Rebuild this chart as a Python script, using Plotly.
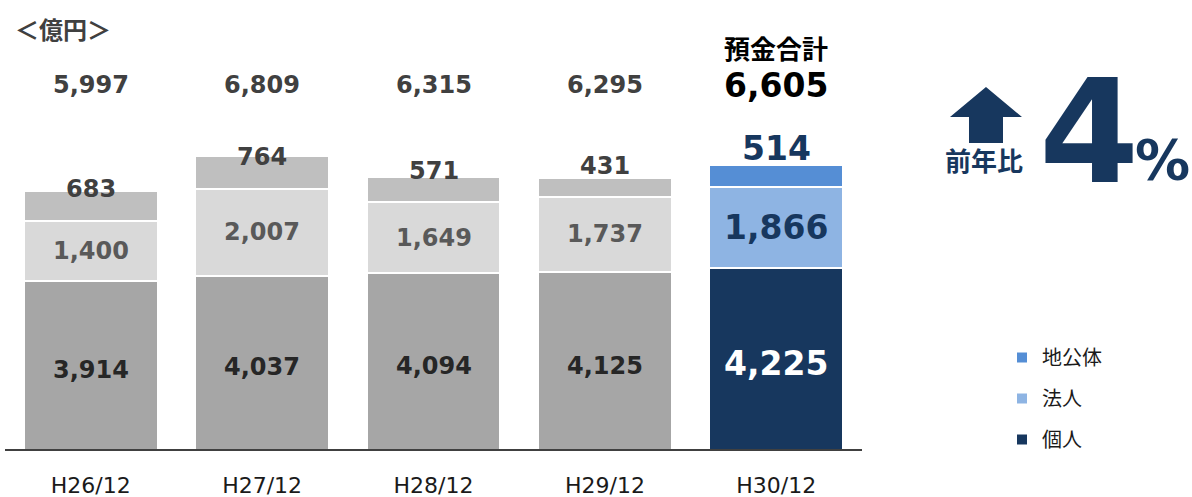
import plotly.graph_objects as go

# ---------------- data ----------------
categories = ["H26/12", "H27/12", "H28/12", "H29/12", "H30/12"]
kojin = [3914, 4037, 4094, 4125, 4225]      # 個人
hojin = [1400, 2007, 1649, 1737, 1866]      # 法人
chikotai = [683, 764, 571, 431, 514]        # 地公体
totals = [5997, 6809, 6315, 6295, 6605]     # 預金合計
yoy_pct = 4                                 # 前年比
series_names = ["個人", "法人", "地公体"]

# ---------------- layout geometry ----------------
W, H = 1192, 497
L, R, T, B = 5, 330, 0, 46
PW, PH = W - L - R, H - T - B
Y_MAX = PH / 0.04336


def px(x):
    return (x - L) / PW


def py(y):
    return (H - B - y) / PH


NUM_FONT = "DejaVu Sans"
JP_FONT = "Noto Sans CJK JP"
NAVY = "#17375e"

gray_cols = ["#a6a6a6", "#d9d9d9", "#bfbfbf"]
blue_cols = [NAVY, "#8eb4e3", "#558ed5"]
seg_values = [kojin, hojin, chikotai]
legend_rank = [3, 2, 1]

fig = go.Figure()
n_gray = len(categories) - 1
for k in range(3):
    fig.add_trace(go.Bar(
        x=categories[:n_gray], y=seg_values[k][:n_gray], name=series_names[k],
        marker=dict(color=gray_cols[k], line=dict(color="white", width=2)),
        width=0.78, showlegend=False, hoverinfo="skip"))
for k in range(3):
    fig.add_trace(go.Bar(
        x=categories[n_gray:], y=seg_values[k][n_gray:], name=series_names[k],
        marker=dict(color=blue_cols[k], line=dict(color="white", width=2)),
        width=0.78, showlegend=True, legendrank=legend_rank[k], hoverinfo="skip"))

ann = []


def paper_text(x, y, text, family, size, color, xanchor="center"):
    ann.append(dict(x=px(x), y=py(y), xref="paper", yref="paper", text=text,
                    xanchor=xanchor, yanchor="middle", showarrow=False,
                    font=dict(family=family, size=size, color=color, weight="bold")))


# unit label
paper_text(13, 28, "＜億円＞", JP_FONT, 24, "#404040", xanchor="left")

top_shift = [2, -1, 6, 12, 16]
for i, c in enumerate(categories):
    last = i == len(categories) - 1
    fs = 33 if last else 24
    # totals
    ann.append(dict(x=c, y=py(85), xref="x", yref="paper", text=f"{totals[i]:,}",
                    xanchor="center", yanchor="middle", showarrow=False,
                    font=dict(family=NUM_FONT, size=fs, weight="bold",
                              color="#000000" if last else "#404040")))
    # bottom segment
    ann.append(dict(x=c, y=kojin[i] / 2, xref="x", yref="y", text=f"{kojin[i]:,}",
                    yshift=-4, xanchor="center", yanchor="middle", showarrow=False,
                    font=dict(family=NUM_FONT, size=fs, weight="bold",
                              color="#ffffff" if last else "#262626")))
    # middle segment
    ann.append(dict(x=c, y=kojin[i] + hojin[i] / 2, xref="x", yref="y",
                    text=f"{hojin[i]:,}", xanchor="center", yanchor="middle",
                    showarrow=False,
                    font=dict(family=NUM_FONT, size=fs, weight="bold",
                              color=NAVY if last else "#595959")))
    # top segment
    ann.append(dict(x=c, y=kojin[i] + hojin[i] + chikotai[i], xref="x", yref="y",
                    yshift=top_shift[i], text=f"{chikotai[i]:,}",
                    xanchor="center", yanchor="middle", showarrow=False,
                    font=dict(family=NUM_FONT, size=fs, weight="bold",
                              color=NAVY if last else "#404040")))

ann.append(dict(x=categories[-1], y=py(47), xref="x", yref="paper", text="預金合計",
                xanchor="center", yanchor="middle", showarrow=False,
                font=dict(family=JP_FONT, size=26, weight="bold", color="#000000")))

# year-over-year block
paper_text(984, 159, "前年比", JP_FONT, 26, NAVY)
paper_text(1089, 132, f"{yoy_pct}", NUM_FONT, 144, NAVY)
paper_text(1162, 160, "%", NUM_FONT, 55, NAVY)

arrow_pts = [(986, 87), (1022, 117), (1003, 117), (1003, 143), (969, 143),
             (969, 117), (950, 117)]
path = "M " + " L ".join(f"{px(x):.5f},{py(y):.5f}" for x, y in arrow_pts) + " Z"

shapes = [
    dict(type="path", path=path, xref="paper", yref="paper",
         fillcolor=NAVY, line=dict(width=0)),
    dict(type="line", xref="paper", yref="y", x0=0, x1=1, y0=0, y1=0,
         line=dict(color="#404040", width=4), layer="above"),
]

fig.update_layout(
    width=W, height=H,
    margin=dict(l=L, r=R, t=T, b=B, autoexpand=False),
    barmode="stack",
    plot_bgcolor="white", paper_bgcolor="white",
    annotations=ann, shapes=shapes,
    xaxis=dict(type="category", range=[-0.5, len(categories) - 0.5],
               showgrid=False, zeroline=False, showline=False, ticks="",
               automargin=False, fixedrange=True,
               tickfont=dict(family=NUM_FONT, size=22, color="#1a1a1a"),
               ticklabelstandoff=19),
    yaxis=dict(range=[0, Y_MAX], visible=False, automargin=False, fixedrange=True),
    legend=dict(x=px(1002), y=py(338), xanchor="left", yanchor="top",
                tracegroupgap=12,
                font=dict(family=JP_FONT, size=20, color="#1a1a1a"),
                bgcolor="rgba(0,0,0,0)"),
    showlegend=True,
    hovermode=False,
)
for tr in fig.data:
    tr.legendgroup = tr.name

fig.write_html("out.html",
               config={"displayModeBar": False},
               post_script="document.body.style.margin='0';"
                           "document.body.style.overflow='hidden';")
